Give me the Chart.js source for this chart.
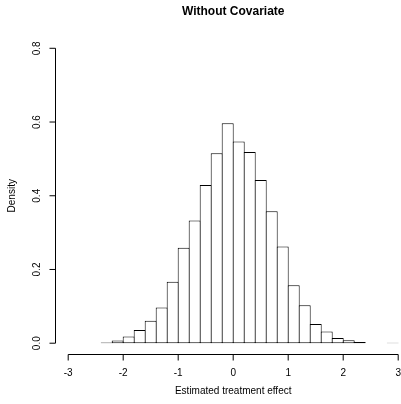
<!DOCTYPE html>
<html>
<head>
<meta charset="utf-8">
<script src="https://cdn.jsdelivr.net/npm/chart.js@4"></script>
<style>
  html, body { margin: 0; padding: 0; background: #fff; overflow: hidden; }
  #chart { display: block; }
</style>
</head>
<body>
<canvas id="chart" width="401" height="404"></canvas>
<script>
// histogram bins (midpoints, width 0.2) and densities
const binMids = [-2.3, -2.1, -1.9, -1.7, -1.5, -1.3, -1.1, -0.9, -0.7, -0.5, -0.3, -0.1,
                 0.1, 0.3, 0.5, 0.7, 0.9, 1.1, 1.3, 1.5, 1.7, 1.9, 2.1, 2.3, 2.5, 2.7, 2.9];
const density = [0.002, 0.007, 0.018, 0.036, 0.061, 0.097, 0.167, 0.259, 0.333, 0.429, 0.515, 0.597,
                 0.547, 0.519, 0.443, 0.358, 0.262, 0.157, 0.103, 0.052, 0.032, 0.014, 0.008, 0.003, 0, 0, 0.001];
const xTicks = [-3, -2, -1, 0, 1, 2, 3];
const yTicks = [0.0, 0.2, 0.4, 0.6, 0.8];
const yTickLabels = ["0.0", "0.2", "0.4", "0.6", "0.8"];

const titleText = "Without Covariate";
const xTitle = "Estimated treatment effect";
const yTitle = "Density";
const fontFamily = "'Liberation Sans', Arial, Helvetica, sans-serif";

/* R style axes, drawn through the chart's scales */
const rAxes = {
    id: "rAxes",
    afterDraw(chart) {
        const ctx = chart.ctx;
        const xs = chart.scales.x;
        const ys = chart.scales.y;
        const area = chart.chartArea;
        ctx.save();
        ctx.strokeStyle = "#000";
        ctx.fillStyle = "#000";
        ctx.lineWidth = 1;

        // bottom axis
        const axY = area.bottom - 0.5;
        const x0 = xs.getPixelForValue(xTicks[0]);
        const x1 = xs.getPixelForValue(xTicks[xTicks.length - 1]);
        ctx.beginPath();
        ctx.moveTo(x0, axY);
        ctx.lineTo(x1, axY);
        xTicks.forEach(t => {
            const px = xs.getPixelForValue(t);
            ctx.moveTo(px, axY);
            ctx.lineTo(px, axY + 6);
        });
        ctx.stroke();

        ctx.font = "10px " + fontFamily;
        ctx.textAlign = "center";
        ctx.textBaseline = "middle";
        xTicks.forEach(t => {
            ctx.fillText(String(t), xs.getPixelForValue(t), 373);
        });

        // left axis
        const axX = area.left + 0.5;
        const yA = ys.getPixelForValue(yTicks[0]);
        const yB = ys.getPixelForValue(yTicks[yTicks.length - 1]);
        ctx.beginPath();
        ctx.moveTo(axX, yA);
        ctx.lineTo(axX, yB);
        yTicks.forEach(t => {
            const py = ys.getPixelForValue(t);
            ctx.moveTo(axX, py);
            ctx.lineTo(axX - 6, py);
        });
        ctx.stroke();

        yTicks.forEach((t, i) => {
            ctx.save();
            ctx.translate(37, ys.getPixelForValue(t));
            ctx.rotate(-Math.PI / 2);
            ctx.fillText(yTickLabels[i], 0, 0);
            ctx.restore();
        });

        // axis titles
        const midX = (area.left + xs.getPixelForValue(3.24)) / 2;
        ctx.fillText(xTitle, midX, 391);
        ctx.save();
        ctx.translate(12, (area.top + area.bottom) / 2);
        ctx.rotate(-Math.PI / 2);
        ctx.fillText(yTitle, 0, 0);
        ctx.restore();

        // main title
        ctx.font = "bold 12px " + fontFamily;
        ctx.fillText(titleText, midX, 12);
        ctx.restore();
    }
};

new Chart(document.getElementById("chart"), {
    type: "bar",
    data: {
        datasets: [{
            data: binMids.map((m, i) => ({ x: m, y: density[i] })),
            backgroundColor: "#ffffff",
            borderColor: "#000000",
            borderSkipped: false,
            borderWidth: 1,
            inflateAmount: 0,
            // one pixel wider than a bin so neighbouring outlines share a line
            barPercentage: 12 / 11,
            categoryPercentage: 1
        }]
    },
    options: {
        responsive: false,
        animation: false,
        layout: { padding: { left: 55, right: 0, top: 36.5, bottom: 49 } },
        plugins: {
            legend: { display: false },
            tooltip: { enabled: false },
            title: { display: false }
        },
        scales: {
            x: { type: "linear", min: -3.24, max: 3.051, offset: false, display: false },
            y: { min: -0.032, max: 0.832, display: false }
        }
    },
    plugins: [rAxes]
});
</script>
</body>
</html>
